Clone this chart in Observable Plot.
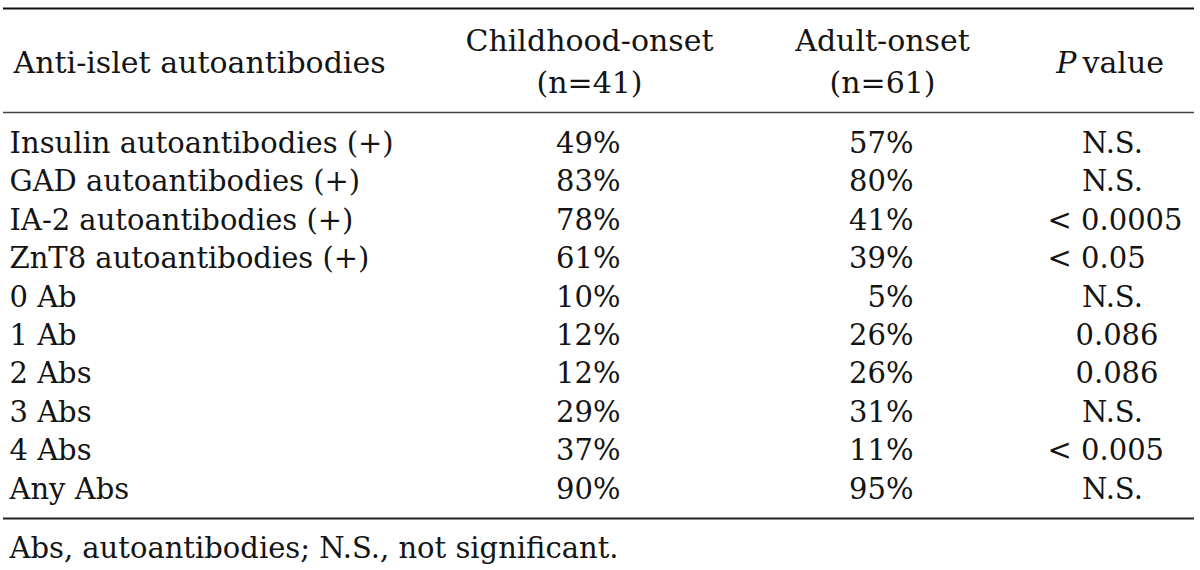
<!DOCTYPE html>
<html>
<head>
<meta charset="utf-8">
<script src="https://cdn.jsdelivr.net/npm/d3@7"></script>
<script src="https://cdn.jsdelivr.net/npm/@observablehq/plot@0.6"></script>
<style>
  html, body { margin: 0; padding: 0; background: #fff; }
  #chart svg { display: block; }
</style>
</head>
<body>
<div id="chart"></div>
<script>
// ---- data ----
const rowLabels = [
  "Insulin autoantibodies (+)",
  "GAD autoantibodies (+)",
  "IA-2 autoantibodies (+)",
  "ZnT8 autoantibodies (+)",
  "0 Ab",
  "1 Ab",
  "2 Abs",
  "3 Abs",
  "4 Abs",
  "Any Abs"
];
const childhoodOnset = ["49%", "83%", "78%", "61%", "10%", "12%", "12%", "29%", "37%", "90%"];
const adultOnset = ["57%", "80%", "41%", "39%", "5%", "26%", "26%", "31%", "11%", "95%"];
const pValues = ["N.S.", "N.S.", "< 0.0005", "< 0.05", "N.S.", "0.086", "0.086", "N.S.", "< 0.005", "N.S."];
const headerLabel = "Anti-islet autoantibodies";
const headerChild = ["Childhood-onset", "(n=41)"];
const headerAdult = ["Adult-onset", "(n=61)"];
const headerPItalic = "P";
const headerPRest = "value";
const footnote = "Abs, autoantibodies; N.S., not significant.";

// ---- layout (pixels) ----
const W = 1200, H = 570;
const firstRowY = 143, lastRowY = 489;
const unit = (lastRowY - firstRowY) / (rowLabels.length - 1);
const rowUnits = px => (px - firstRowY) / unit;   // convert a pixel row to y-scale units
const FONT = "DejaVu Serif";
const FS = 29;
const HFS = 30;
const INK = "#141414";
const col = { label: 9, headLabel: 13, childRight: 620, childCenter: 589, adultRight: 913, adultCenter: 882, pCenter: 1112, pLeft: 1047, pRight: 1158, pItalicEnd: 1076, pRestStart: 1082 };

const table = rowLabels.map((label, i) => ({
  i, label, child: childhoodOnset[i], adult: adultOnset[i], p: pValues[i]
}));
const pAnchor = s => s === "N.S." ? "middle" : s.startsWith("<") ? "start" : "end";
const pX = s => s === "N.S." ? col.pCenter : s.startsWith("<") ? col.pLeft : col.pRight;

const rules = [
  { y: rowUnits(8), w: 2, c: "#111" },
  { y: rowUnits(112), w: 1.4, c: "#444" },
  { y: rowUnits(518), w: 1.8, c: "#222" }
];
const headerLines = [
  { x: col.childCenter, y: rowUnits(41), t: headerChild[0] },
  { x: col.childCenter, y: rowUnits(83), t: headerChild[1] },
  { x: col.adultCenter, y: rowUnits(41), t: headerAdult[0] },
  { x: col.adultCenter, y: rowUnits(83), t: headerAdult[1] }
];

const common = { fontFamily: FONT, fontSize: FS, fill: INK, lineAnchor: "middle" };
const head = { ...common, fontSize: HFS };

const chart = Plot.plot({
  width: W,
  height: H,
  margin: 0,
  x: { type: "linear", domain: [0, W], range: [0, W], axis: null },
  y: { type: "linear", domain: [0, rowLabels.length - 1], range: [firstRowY, lastRowY], axis: null },
  style: { fontFamily: FONT, background: "#fff" },
  marks: [
    Plot.ruleY(rules, { y: "y", x1: () => 3, x2: () => 1194, strokeWidth: "w", stroke: "c" }),
    // header
    Plot.text([headerLabel], { ...head, x: () => col.headLabel, y: () => rowUnits(63), text: d => d, textAnchor: "start" }),
    Plot.text(headerLines, { ...head, x: "x", y: "y", text: "t", textAnchor: "middle" }),
    Plot.text([headerPItalic], { ...head, x: () => col.pItalicEnd, y: () => rowUnits(63), text: d => d, textAnchor: "end", fontStyle: "italic" }),
    Plot.text([headerPRest], { ...head, x: () => col.pRestStart, y: () => rowUnits(63), text: d => d, textAnchor: "start" }),
    // body
    Plot.text(table, { ...common, x: () => col.label, y: "i", text: "label", textAnchor: "start" }),
    Plot.text(table, { ...common, x: () => col.childRight, y: "i", text: "child", textAnchor: "end" }),
    Plot.text(table, { ...common, x: () => col.adultRight, y: "i", text: "adult", textAnchor: "end" }),
    Plot.text(table.filter(d => pAnchor(d.p) === "middle"), { ...common, x: d => pX(d.p), y: "i", text: "p", textAnchor: "middle" }),
    Plot.text(table.filter(d => pAnchor(d.p) === "start"), { ...common, x: d => pX(d.p), y: "i", text: "p", textAnchor: "start" }),
    Plot.text(table.filter(d => pAnchor(d.p) === "end"), { ...common, x: d => pX(d.p), y: "i", text: "p", textAnchor: "end" }),
    // footnote
    Plot.text([footnote], { ...common, x: () => col.label, y: () => rowUnits(548), text: d => d, textAnchor: "start" })
  ]
});
document.getElementById("chart").appendChild(chart);
</script>
</body>
</html>
